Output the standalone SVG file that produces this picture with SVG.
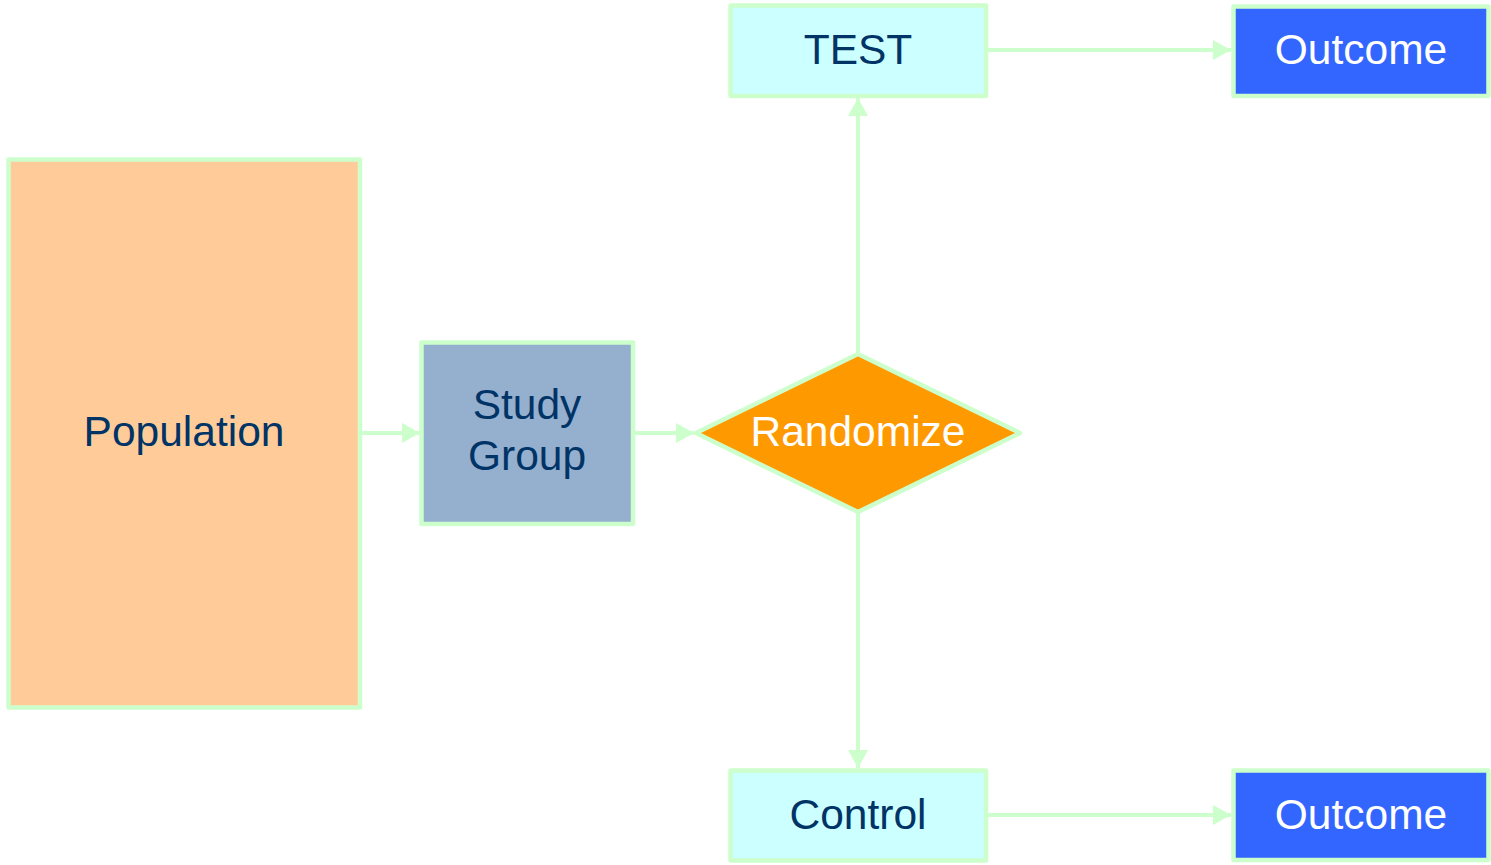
<svg xmlns="http://www.w3.org/2000/svg" width="1491" height="865" viewBox="0 0 1491 865">
<defs>
<style>
.box{stroke:#CCFFCC;stroke-width:4.5;stroke-linejoin:round}
.t{font-family:"Liberation Sans",Arial,sans-serif;font-size:42.5px;text-anchor:middle;fill:#003366}
.w{fill:#FFFFFF}
.c{stroke:#CCFFCC;stroke-width:4;fill:none}
</style>
<marker id="ah" markerWidth="18" markerHeight="20" refX="18" refY="10" orient="auto" markerUnits="userSpaceOnUse">
<path d="M0,0 L18,10 L0,20 Z" fill="#CCFFCC"/>
</marker>
</defs>
<rect width="1491" height="865" fill="#FFFFFF"/>
<g id="connectors">
<line class="c" x1="362" y1="433" x2="420" y2="433" marker-end="url(#ah)"/>
<line class="c" x1="635" y1="433" x2="694" y2="433" marker-end="url(#ah)"/>
<line class="c" x1="858" y1="353" x2="858" y2="98" marker-end="url(#ah)"/>
<line class="c" x1="858" y1="513" x2="858" y2="768" marker-end="url(#ah)"/>
<line class="c" x1="988" y1="50" x2="1231" y2="50" marker-end="url(#ah)"/>
<line class="c" x1="988" y1="815" x2="1231" y2="815" marker-end="url(#ah)"/>
</g>
<g id="population">
<rect class="box" x="8.5" y="159.5" width="351.5" height="548" fill="#FFCC99"/>
<text class="t" x="184" y="446">Population</text>
</g>
<g id="study-group">
<rect class="box" x="421.5" y="342.5" width="211.5" height="181.5" fill="#95AFCE"/>
<text class="t" x="527" y="419">Study</text>
<text class="t" x="527" y="470">Group</text>
</g>
<g id="randomize">
<polygon class="box" points="858,354 1020,433 858,512 696,433" fill="#FF9900"/>
<text class="t w" x="858" y="446">Randomize</text>
</g>
<g id="test">
<rect class="box" x="730.5" y="5.5" width="255.5" height="90.5" fill="#CCFFFF"/>
<text class="t" x="858" y="64">TEST</text>
</g>
<g id="outcome-top">
<rect class="box" x="1233.5" y="6.5" width="255" height="89.5" fill="#3366FF"/>
<text class="t w" x="1361" y="64">Outcome</text>
</g>
<g id="control">
<rect class="box" x="730.5" y="770.5" width="255.5" height="90" fill="#CCFFFF"/>
<text class="t" x="858" y="829">Control</text>
</g>
<g id="outcome-bottom">
<rect class="box" x="1233.5" y="770.5" width="255" height="89.5" fill="#3366FF"/>
<text class="t w" x="1361" y="829">Outcome</text>
</g>
</svg>
